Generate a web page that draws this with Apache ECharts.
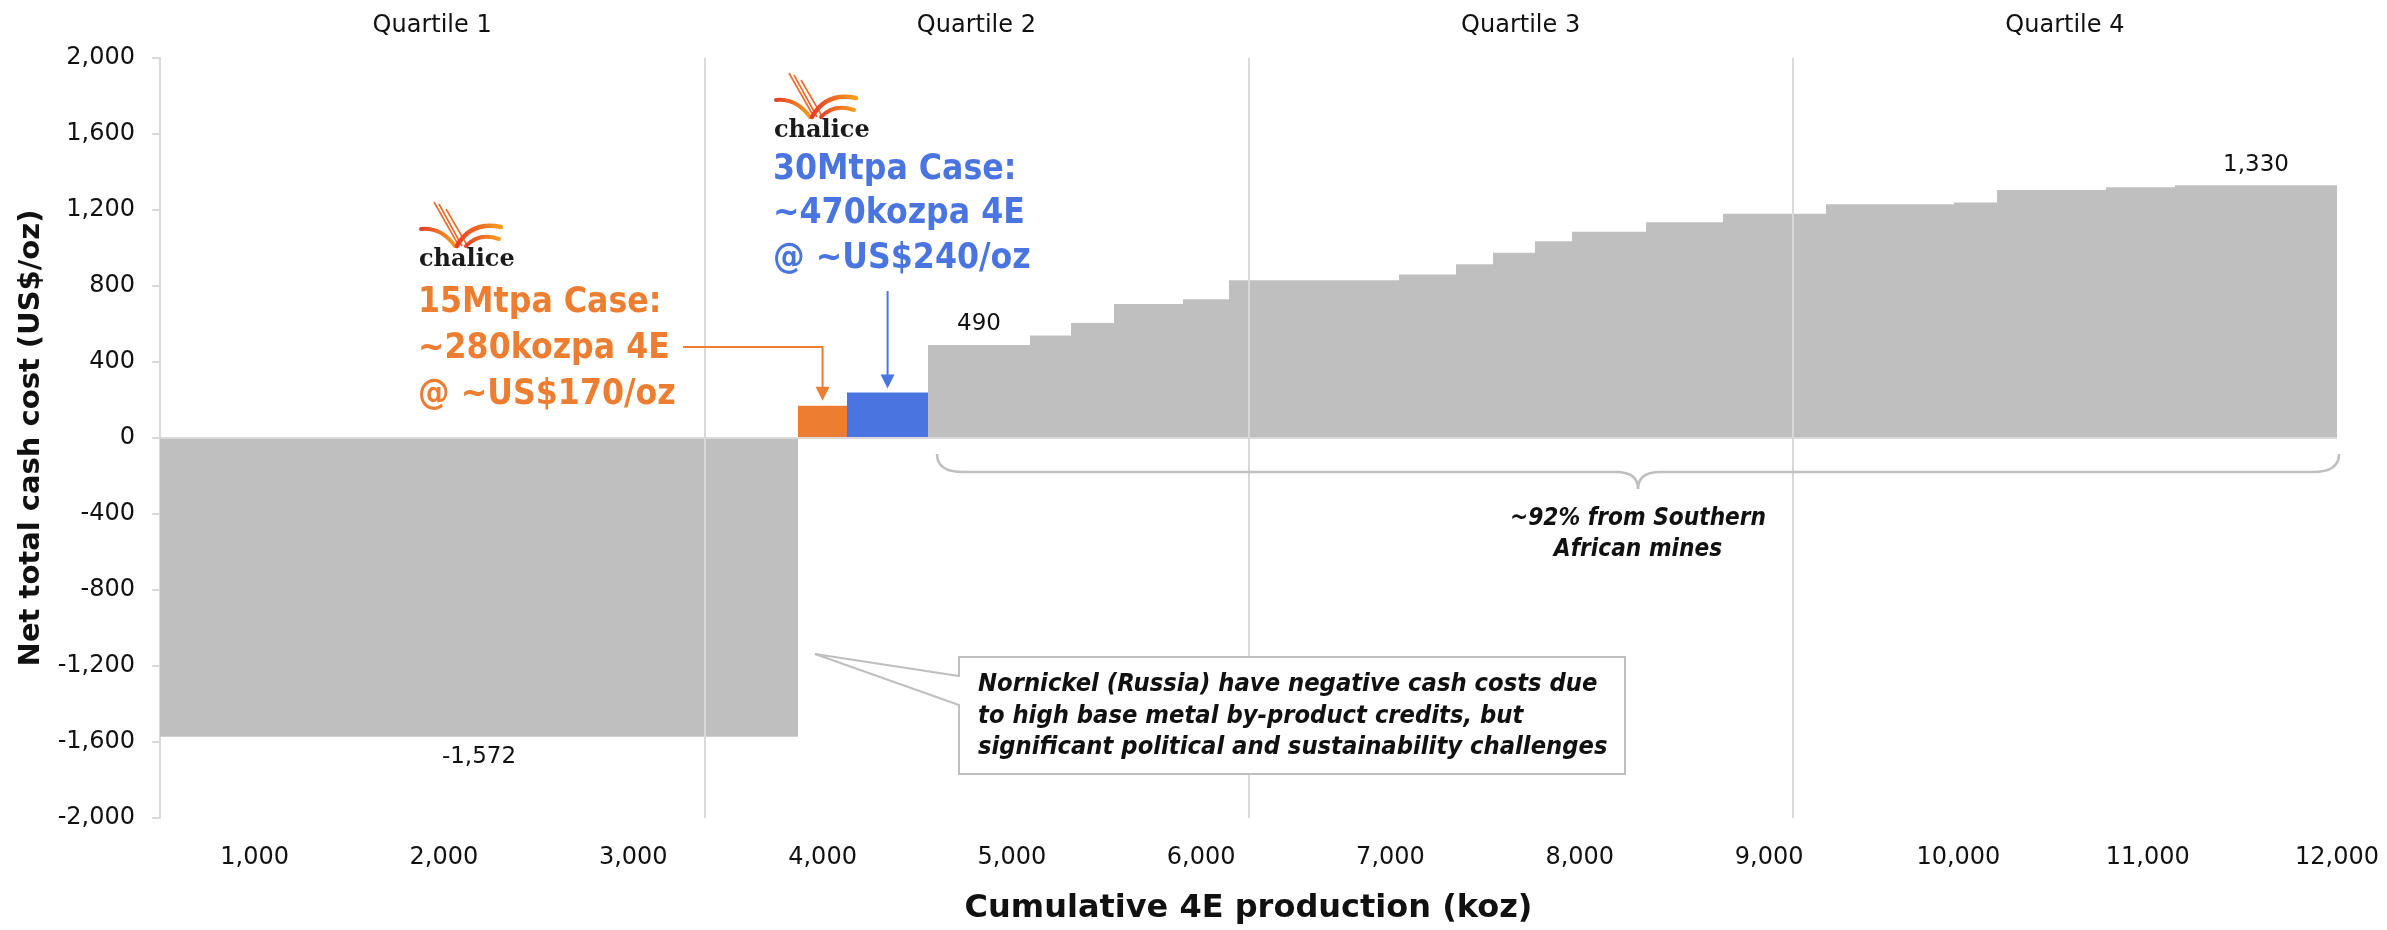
<!DOCTYPE html>
<html>
<head>
<meta charset="utf-8">
<title>4E cost curve</title>
<script src="https://cdn.jsdelivr.net/npm/echarts@6/dist/echarts.min.js"></script>
<style>
  html, body { margin: 0; padding: 0; background: #ffffff; }
  #chart { width: 2387px; height: 930px; }
</style>
</head>
<body>
<div id="chart"></div>
<script>
// cumulative production edges (koz), one more than bars
const barEdges = [500, 3870, 4130, 4557, 5096, 5312, 5540, 5904, 6147, 7045, 7346, 7542,
  7764, 7959, 8350, 8757, 9301, 9977, 10204, 10780, 11145, 12000];
// net total cash cost per bar (US$/oz)
const barCost = [-1572, 170, 240, 490, 540, 605, 705, 730, 830, 860, 915, 975,
  1035, 1085, 1135, 1180, 1230, 1240, 1305, 1320, 1330];
const barGroup = ['Nornickel', 'Chalice 15Mtpa', 'Chalice 30Mtpa'].concat(Array(18).fill('Peer'));
const labelledBars = [0, 3, 20];

const quartileEdges = [500, 3375, 6250, 9125, 12000];
const quartileNames = ['Quartile 1', 'Quartile 2', 'Quartile 3', 'Quartile 4'];
const xTickValues = [1000, 2000, 3000, 4000, 5000, 6000, 7000, 8000, 9000, 10000, 11000, 12000];

const orangeText = ['15Mtpa Case:', '~280kozpa 4E', '@ ~US$170/oz'];
const blueText = ['30Mtpa Case:', '~470kozpa 4E', '@ ~US$240/oz'];
const noteText = ['Nornickel (Russia) have negative cash costs due',
  'to high base metal by-product credits, but',
  'significant political and sustainability challenges'];
const braceText = ['~92% from Southern', 'African mines'];

const FONT = "'DejaVu Sans', sans-serif";
const GREY = '#bfbfbf';
const LIGHT = '#d9d9d9';
const ORANGE = '#ed7d31';
const BLUE = '#4a75e0';
const groupColours = { 'Nornickel': GREY, 'Peer': GREY, 'Chalice 15Mtpa': ORANGE, 'Chalice 30Mtpa': BLUE };

const fmt = v => Number(v).toLocaleString('en-US');

const chart = echarts.init(document.getElementById('chart'), null, { renderer: 'canvas' });

function renderBar(params, api) {
  const i = api.value(3);
  const p0 = api.coord([api.value(0), api.value(2)]);
  const p1 = api.coord([api.value(1), 0]);
  const x0 = Math.round(p0[0]);
  const x1 = Math.round(p1[0]);
  const el = {
    type: 'rect',
    shape: { x: x0, y: Math.min(p0[1], p1[1]), width: x1 - x0, height: Math.abs(p1[1] - p0[1]) },
    style: { fill: groupColours[barGroup[i]] }
  };
  if (labelledBars.indexOf(i) >= 0) {
    el.textContent = { style: { text: fmt(barCost[i]), font: '23px ' + FONT, fill: '#111' } };
    el.textConfig = { position: barCost[i] < 0 ? 'bottom' : 'top', distance: 9 };
  }
  return el;
}

const option = {
  animation: false,
  backgroundColor: '#ffffff',
  grid: { left: 160, right: 50, top: 58, bottom: 109 },
  xAxis: {
    type: 'value',
    min: quartileEdges[0],
    max: quartileEdges[quartileEdges.length - 1],
    name: 'Cumulative 4E production (koz)',
    nameLocation: 'middle',
    nameGap: 75,
    nameTextStyle: { fontFamily: FONT, fontSize: 32, fontWeight: 'bold', color: '#111' },
    axisLine: { show: false, onZero: false },
    axisTick: { show: false },
    splitLine: { show: false },
    axisLabel: {
      customValues: xTickValues,
      margin: 28,
      fontFamily: FONT, fontSize: 24, color: '#111',
      formatter: v => fmt(v)
    }
  },
  yAxis: {
    type: 'value',
    min: -2000,
    max: 2000,
    interval: 400,
    name: 'Net total cash cost (US$/oz)',
    nameLocation: 'middle',
    nameGap: 114,
    nameTextStyle: { fontFamily: FONT, fontSize: 29, fontWeight: 'bold', color: '#111' },
    axisLine: { show: true, lineStyle: { color: LIGHT, width: 2 } },
    axisTick: { show: true, length: 8, lineStyle: { color: LIGHT, width: 2 } },
    splitLine: { show: false },
    axisLabel: { margin: 25, fontFamily: FONT, fontSize: 24, color: '#111', formatter: v => fmt(v) }
  },
  series: [
    {
      name: 'Quartiles',
      type: 'line',
      data: [],
      z: 1,
      silent: true,
      markArea: {
        silent: true,
        itemStyle: { color: 'rgba(0,0,0,0)' },
        label: { show: true, position: 'top', distance: 20, fontFamily: FONT, fontSize: 24, color: '#111' },
        data: quartileNames.map((n, i) => [{ name: n, xAxis: quartileEdges[i] }, { xAxis: quartileEdges[i + 1] }])
      },
      markLine: {
        silent: true,
        symbol: 'none',
        label: { show: false },
        lineStyle: { color: LIGHT, width: 2, type: 'solid' },
        data: quartileEdges.slice(1, -1).map(v => ({ xAxis: v }))
      }
    },
    {
      name: 'Cost curve',
      type: 'custom',
      z: 2,
      renderItem: renderBar,
      encode: { x: [0, 1], y: 2 },
      data: barCost.map((c, i) => [barEdges[i], barEdges[i + 1], c, i])
    },
    {
      name: 'Zero',
      type: 'line',
      data: [],
      z: 3,
      silent: true,
      markLine: {
        silent: true,
        symbol: 'none',
        label: { show: false },
        lineStyle: { color: LIGHT, width: 2, type: 'solid' },
        data: [{ yAxis: 0 }]
      }
    }
  ]
};

chart.setOption(option);

// ---- annotations ----
const toPx = (x, y) => chart.convertToPixel({ gridIndex: 0 }, [x, y]);

function textBlock(lines, x, y, font, fill, lineHeight, align, scaleX) {
  return {
    type: 'text', x: x, y: y, scaleX: scaleX, z: 20,
    style: {
      text: lines.join('\n'), x: 0, y: 0, font: font, fill: fill, lineHeight: lineHeight,
      align: align, textAlign: align, verticalAlign: 'top', textVerticalAlign: 'top'
    }
  };
}

function chaliceLogo(x, y) {
  const grad = () => new echarts.graphic.LinearGradient(0, 0, 1, 0, [
    { offset: 0, color: '#e5392b' }, { offset: 1, color: '#f8a31d' }]);
  const thin = (x1, y1, x2, y2) => ({
    type: 'line', shape: { x1, y1, x2, y2 },
    style: { stroke: '#ec6a2a', lineWidth: 1.6 }
  });
  const arc = (x1, y1, cpx1, cpy1, x2, y2, w) => ({
    type: 'bezierCurve', shape: { x1, y1, cpx1, cpy1, x2, y2 },
    style: { stroke: grad(), lineWidth: w, fill: null, lineCap: 'round' }
  });
  return {
    type: 'group', x: x, y: y, z: 20,
    children: [
      thin(15, -70, 40, -26), thin(20, -68, 43, -26), thin(27, -63, 48, -27),
      arc(2, -43, 22, -45, 36, -26, 4),
      arc(38, -26, 52, -51, 82, -45, 4.5),
      arc(47, -26, 60, -40, 80, -33, 4),
      {
        type: 'text', x: 0, y: 0,
        style: { text: 'chalice', x: 0, y: 0, font: 'bold 24px "DejaVu Serif", serif', fill: '#1a1a1a',
          align: 'left', textAlign: 'left', verticalAlign: 'bottom', textVerticalAlign: 'bottom' }
      }
    ]
  };
}

function arrowHead(cx, tipY, colour) {
  return {
    type: 'polygon', z: 20,
    shape: { points: [[cx - 7, tipY - 14], [cx + 7, tipY - 14], [cx, tipY]] },
    style: { fill: colour }
  };
}

const orange = toPx((barEdges[1] + barEdges[2]) / 2, barCost[1]);
const blue = toPx((barEdges[2] + barEdges[3]) / 2, barCost[2]);
const braceL = toPx(barEdges[3], 0)[0] + 9;
const braceR = toPx(barEdges[barEdges.length - 1], 0)[0] + 2;
const braceM = (braceL + braceR) / 2;
const bTop = 454, bLine = 472, bTip = 489;
const braceStyle = { stroke: GREY, lineWidth: 2.5, fill: null };
const orangeTip = orange[1] - 5;
const blueTip = blue[1] - 4;

const graphics = [
  chaliceLogo(419, 272),
  chaliceLogo(774, 143),
  textBlock(orangeText, 418, 280, 'bold 36px ' + FONT, ORANGE, 46, 'left', 0.88),
  textBlock(blueText, 773, 147, 'bold 36px ' + FONT, BLUE, 44.5, 'left', 0.88),
  // orange leader
  { type: 'polyline', z: 20, shape: { points: [[683, 347], [orange[0], 347], [orange[0], orangeTip - 13]] },
    style: { stroke: ORANGE, lineWidth: 2, fill: null } },
  arrowHead(orange[0], orangeTip, ORANGE),
  // blue leader
  { type: 'line', z: 20, shape: { x1: blue[0], y1: 291, x2: blue[0], y2: blueTip - 13 },
    style: { stroke: BLUE, lineWidth: 2 } },
  arrowHead(blue[0], blueTip, BLUE),
  // Nornickel callout
  { type: 'polygon', z: 20,
    shape: { points: [[959, 657], [1625, 657], [1625, 774], [959, 774], [959, 705], [815, 654], [959, 676]] },
    style: { fill: '#ffffff', stroke: GREY, lineWidth: 2 } },
  textBlock(noteText, 978, 669, 'italic bold 25px ' + FONT, '#111', 31.5, 'left', 0.91),
  // brace
  { type: 'bezierCurve', z: 20, shape: { x1: braceL, y1: bTop, cpx1: braceL, cpy1: bLine, x2: braceL + 26, y2: bLine }, style: braceStyle },
  { type: 'line', z: 20, shape: { x1: braceL + 26, y1: bLine, x2: braceM - 22, y2: bLine }, style: braceStyle },
  { type: 'bezierCurve', z: 20, shape: { x1: braceM - 22, y1: bLine, cpx1: braceM, cpy1: bLine, x2: braceM, y2: bTip }, style: braceStyle },
  { type: 'bezierCurve', z: 20, shape: { x1: braceM + 22, y1: bLine, cpx1: braceM, cpy1: bLine, x2: braceM, y2: bTip }, style: braceStyle },
  { type: 'line', z: 20, shape: { x1: braceM + 22, y1: bLine, x2: braceR - 26, y2: bLine }, style: braceStyle },
  { type: 'bezierCurve', z: 20, shape: { x1: braceR - 26, y1: bLine, cpx1: braceR, cpy1: bLine, x2: braceR, y2: bTop }, style: braceStyle },
  textBlock(braceText, braceM, 503, 'italic bold 25px ' + FONT, '#111', 31, 'center', 0.87)
];

chart.setOption({ graphic: graphics });

window.addEventListener('resize', () => chart.resize());
</script>
</body>
</html>
